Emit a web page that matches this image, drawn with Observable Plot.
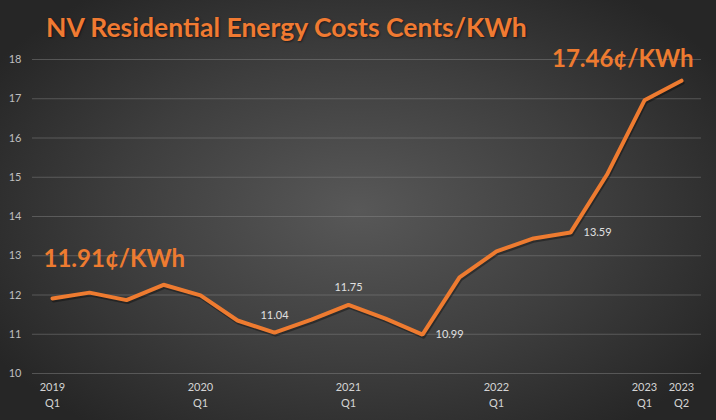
<!DOCTYPE html>
<html>
<head>
<meta charset="utf-8">
<script src="https://cdn.jsdelivr.net/npm/d3@7"></script>
<script src="https://cdn.jsdelivr.net/npm/@observablehq/plot@0.6"></script>
<style>
  html, body { margin: 0; padding: 0; background: #262626; }
  #chart {
    position: relative; width: 716px; height: 420px; overflow: hidden;
    background: radial-gradient(ellipse 60% 65% at 50% 50%, #585858 0%, #3e3e3e 55%, #262626 100%);
    font-family: Lato, "Open Sans", sans-serif;
  }
  #title {
    position: relative; top: 10px; z-index: 1;
    height: 35px; line-height: 35px; padding-left: 46px;
    color: #F07A32; font-weight: bold; font-size: 26.5px; white-space: nowrap;
    text-shadow: 1px 1px 2px rgba(0,0,0,0.5);
  }
  svg { display: block; background: transparent !important; overflow: visible; }
</style>
</head>
<body>
<div id="chart"><div id="title">NV Residential Energy Costs Cents/KWh</div></div>
<script>
const quarters = ["2019 Q1","2019 Q2","2019 Q3","2019 Q4","2020 Q1","2020 Q2","2020 Q3","2020 Q4",
  "2021 Q1","2021 Q2","2021 Q3","2021 Q4","2022 Q1","2022 Q2","2022 Q3","2022 Q4","2023 Q1","2023 Q2"];
const costs = [11.91, 12.06, 11.87, 12.26, 11.99, 11.35, 11.04, 11.37, 11.75, 11.40, 10.99, 12.45,
  13.11, 13.44, 13.59, 15.09, 16.96, 17.46];
const tickQuarters = ["2019 Q1","2020 Q1","2021 Q1","2022 Q1","2023 Q1","2023 Q2"];
const yTicks = [10, 11, 12, 13, 14, 15, 16, 17, 18];
const aboveLabels = ["2020 Q3", "2021 Q1"];
const rightLabels = ["2021 Q3", "2022 Q3"];
const startLabel = "2019 Q1";
const endLabel = "2023 Q2";

const data = quarters.map((q, i) => ({q, v: costs[i]}));
const pick = qs => data.filter(d => qs.includes(d.q));

const orange = "#EE7B30";
const plot = Plot.plot({
  width: 716,
  height: 385,
  marginTop: 24,
  marginBottom: 47,
  marginLeft: 32,
  marginRight: 15,
  style: {fontFamily: "Lato, 'Open Sans', sans-serif", background: "transparent"},
  x: {type: "point", domain: quarters, padding: 0.525},
  y: {domain: [10, 18]},
  marks: [
    Plot.gridY(yTicks, {stroke: "#8a8a8a", strokeOpacity: 0.45, strokeWidth: 1}),
    Plot.axisY({ticks: yTicks, tickSize: 0, tickPadding: 11, fontSize: 11, fill: "#bfbfbf", label: null}),
    Plot.axisX({ticks: tickQuarters, tickFormat: d => d.replace(" ", "\n"), tickSize: 0, tickPadding: 6,
      fontSize: 11, fill: "#d4d4d4", lineHeight: 1.45, label: null}),
    Plot.line(data, {x: "q", y: "v", stroke: "#000", strokeOpacity: 0.35, strokeWidth: 4, dx: 1, dy: 2}),
    Plot.line(data, {x: "q", y: "v", stroke: orange, strokeWidth: 4, strokeLinejoin: "miter"}),
    Plot.text(pick(aboveLabels), {x: "q", y: "v", text: d => d.v.toFixed(2), dy: -17, fontSize: 11, fill: "#e0e0e0"}),
    Plot.text(pick(rightLabels), {x: "q", y: "v", text: d => d.v.toFixed(2), dx: 13, textAnchor: "start", fontSize: 11, fill: "#e0e0e0"}),
    Plot.text(pick([startLabel]), {x: "q", y: "v", text: d => d.v.toFixed(2) + "¢/KWh", dx: -9, dy: -39,
      textAnchor: "start", fontSize: 24, fontWeight: "bold", fill: orange}),
    Plot.text(pick([endLabel]), {x: "q", y: "v", text: d => d.v.toFixed(2) + "¢/KWh", dx: 12, dy: -21,
      textAnchor: "end", fontSize: 24, fontWeight: "bold", fill: orange})
  ]
});
document.getElementById("chart").appendChild(plot);
</script>
</body>
</html>
